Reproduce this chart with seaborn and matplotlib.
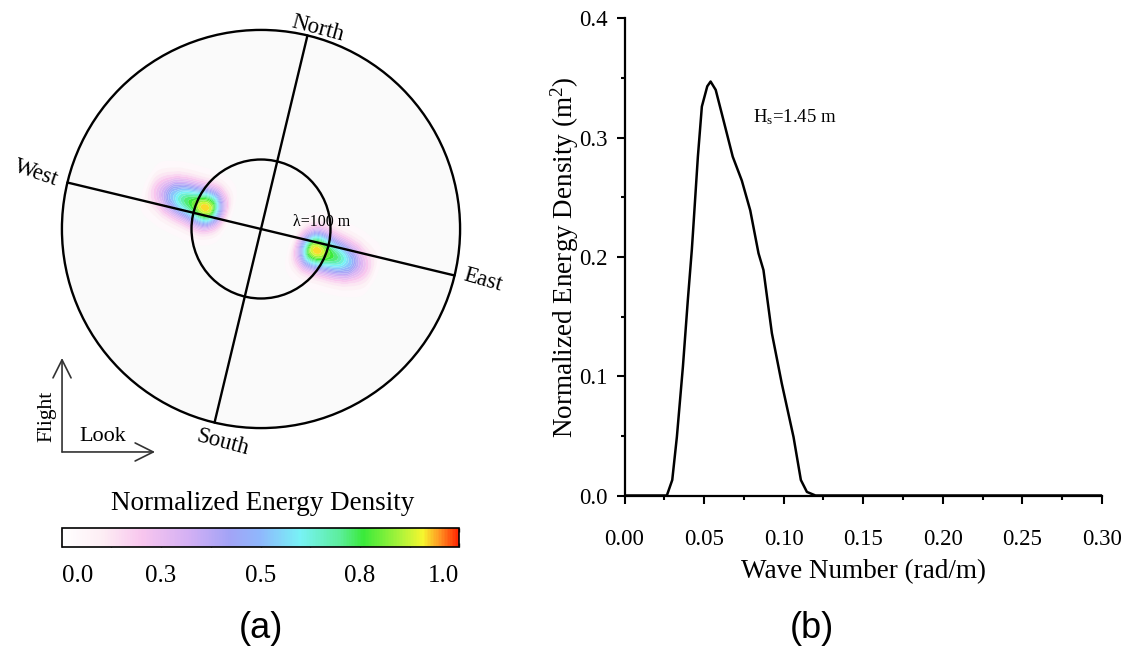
import numpy as np
import pandas as pd
import matplotlib
matplotlib.use("Agg")
import matplotlib.pyplot as plt
import seaborn as sns
from matplotlib.colors import LinearSegmentedColormap, Normalize
from matplotlib.cm import ScalarMappable
from matplotlib.patches import Circle

# ---------------- data ----------------
# 1-D wave spectrum (wave number in rad/m, energy density in m^2)
wavenumber = [0.0, 0.0266, 0.0300, 0.0329, 0.0367, 0.0398, 0.0423, 0.0430,
              0.0461, 0.0486, 0.0520, 0.0541, 0.0573, 0.0621, 0.0680, 0.0737,
              0.0790, 0.0842, 0.0873, 0.0926, 0.0988, 0.1062, 0.1108, 0.1146,
              0.1200, 0.3000]
energy = [0.0, 0.0, 0.013, 0.049, 0.108, 0.164, 0.206, 0.220,
          0.284, 0.326, 0.343, 0.347, 0.340, 0.315, 0.284, 0.264,
          0.239, 0.203, 0.189, 0.136, 0.094, 0.049, 0.013, 0.003,
          0.0, 0.0]

# properties of the 2-D spectrum
peak_direction_deg = 159.0     # mean propagation axis (from +kx, counter-clockwise)
cross_spread_k = 0.0125        # spread across the propagation axis (rad/m)
peak_normalized = 0.93         # normalized energy at the spectral peak
axes_rotation_deg = 13.5       # compass rotation relative to image frame
inner_wavelength = 100.0       # m, inner reference circle
outer_k = 0.18                 # rad/m, outer circle

compass_names = ["North", "West", "East", "South"]
colorbar_ticks = [0.0, 0.25, 0.5, 0.75, 1.0]
colorbar_labels = ["0.0", "0.3", "0.5", "0.8", "1.0"]
hs_label = "H$_\\mathregular{s}$=1.45 m"

# ---------------- style ----------------
sns.set_theme(style="ticks")
plt.rcParams["font.family"] = ["Liberation Serif", "DejaVu Serif"]
plt.rcParams["mathtext.fontset"] = "custom"
plt.rcParams["mathtext.rm"] = "Liberation Serif"
plt.rcParams["mathtext.it"] = "Liberation Serif:italic"
for key in ("text.color", "axes.labelcolor", "xtick.color", "ytick.color",
            "axes.edgecolor"):
    plt.rcParams[key] = "black"

W, H = 1129, 648
fig = plt.figure(figsize=(W / 100, H / 100), dpi=100)

# colormap: white -> pink -> violet -> blue -> cyan -> green -> yellow -> red
cmap = LinearSegmentedColormap.from_list("energy", [
    (0.00, "#ffffff"), (0.10, "#fdeef4"), (0.20, "#f8c6ee"),
    (0.32, "#d3b0f4"), (0.42, "#a3a3f6"), (0.50, "#8fb8fc"),
    (0.60, "#78f2f6"), (0.70, "#5cee9c"), (0.76, "#3aea3a"),
    (0.86, "#b4f43a"), (0.91, "#f6f62e"), (0.95, "#ff9a24"),
    (1.00, "#ff2200")])

# ---------------- panel (a): directional spectrum ----------------
px_per_k = 1106.0
cx, cy = 261.0, 229.0
xlim = (-0.230, 0.230)
ylim = (-0.230, 0.200)
left_px = cx + xlim[0] * px_per_k
right_px = cx + xlim[1] * px_per_k
top_px = cy - ylim[1] * px_per_k
bottom_px = cy - ylim[0] * px_per_k
ax_a = fig.add_axes([left_px / W, 1 - bottom_px / H,
                     (right_px - left_px) / W, (bottom_px - top_px) / H])
ax_a.set_xlim(*xlim)
ax_a.set_ylim(*ylim)
ax_a.set_axis_off()

ax_a.add_patch(Circle((0, 0), outer_k, facecolor="#fafafa", edgecolor="none", zorder=0))

# 2-D field: 1-D spectrum along the propagation axis (both senses),
# Gaussian spread across it
g = np.linspace(-outer_k, outer_k, 500)
KX, KY = np.meshgrid(g, g)
K = np.hypot(KX, KY)
t0 = np.radians(peak_direction_deg)
along = KX * np.cos(t0) + KY * np.sin(t0)
across = -KX * np.sin(t0) + KY * np.cos(t0)
field = (np.interp(np.abs(along), wavenumber, energy)
         * np.exp(-0.5 * (across / cross_spread_k) ** 2))
field = peak_normalized * field / field.max()
field = np.where(K <= outer_k, field, np.nan)
levels = np.concatenate([[0.02], np.arange(0.06, 1.0001, 0.04)])
ax_a.contourf(KX, KY, field, levels=levels, cmap=cmap, vmin=0, vmax=1,
              zorder=1, antialiased=True)

line_kw = dict(color="black", lw=1.7, zorder=3)
ax_a.add_patch(Circle((0, 0), outer_k, fill=False, **line_kw))
k_inner = 2 * np.pi / inner_wavelength
ax_a.add_patch(Circle((0, 0), k_inner, fill=False, **line_kw))
for ang in (90 - axes_rotation_deg, 180 - axes_rotation_deg):
    a = np.radians(ang)
    ax_a.plot([-outer_k * np.cos(a), outer_k * np.cos(a)],
              [-outer_k * np.sin(a), outer_k * np.sin(a)], **line_kw)

compass_pos = {"North": (0.0515, 0.181, -15), "West": (-0.2034, 0.0506, -19),
               "East": (0.2007, -0.0461, -16), "South": (-0.0344, -0.1935, -15)}
for name in compass_names:
    x, y, rot = compass_pos[name]
    ax_a.text(x, y, name, fontsize=16.5, rotation=rot, ha="center", va="center",
              rotation_mode="anchor", zorder=4)

ax_a.text(0.0549, 0.0061, "\u03bb=100 m", fontsize=11.5, ha="center", va="center", zorder=4)

# flight / look direction arrows
ox, oy = -0.1799, -0.2016
arrow_kw = dict(arrowstyle="->,head_length=1.3,head_width=0.65", color="#333333",
                lw=1.2, shrinkA=0, shrinkB=0, mutation_scale=10)
ax_a.annotate("", xy=(ox, -0.1166), xytext=(ox, oy), arrowprops=arrow_kw)
ax_a.annotate("", xy=(-0.0958, oy), xytext=(ox, oy), arrowprops=arrow_kw)
ax_a.text(-0.1938, -0.1697, "Flight", fontsize=15.5, rotation=90, ha="center", va="center")
ax_a.text(-0.1429, -0.1878, "Look", fontsize=16, ha="center", va="center")

# colorbar
cax = fig.add_axes([61.7 / W, 1 - 547.3 / H, 397.6 / W, 19.6 / H])
cb = fig.colorbar(ScalarMappable(norm=Normalize(0, 1), cmap=cmap), cax=cax,
                  orientation="horizontal")
cb.outline.set_linewidth(1.2)
cb.outline.set_edgecolor("black")
cax.set_xticks(colorbar_ticks)
cax.set_xticklabels(colorbar_labels)
cax.set_xticks(np.arange(0.125, 1.0, 0.25), minor=True)
cax.tick_params(axis="x", which="both", direction="in", top=True, bottom=True,
                length=3, width=1, color="#333333", labelsize=18, pad=13)
tl = cax.get_xticklabels()
tl[0].set_ha("left")
tl[-1].set_ha("right")
fig.text(263 / W, 1 - 503 / H, "Normalized Energy Density", fontsize=19.5,
         ha="center", va="center")
fig.text(261 / W, 1 - 628 / H, "(a)", fontsize=26, ha="center", va="center",
         family="Liberation Sans")

# ---------------- panel (b): 1-D spectrum ----------------
ax_b = fig.add_axes([624.5 / W, 1 - 495.5 / H, (1102 - 624.5) / W, (495.5 - 18.3) / H])
spec = pd.DataFrame({"k": wavenumber, "E": energy})
sns.lineplot(data=spec, x="k", y="E", ax=ax_b, color="black", lw=1.8)
ax_b.set_xlim(0, 0.30)
ax_b.set_ylim(0, 0.40)
ax_b.set_xticks(np.arange(0, 0.3001, 0.05))
ax_b.set_xticks(np.arange(0.025, 0.3, 0.05), minor=True)
ax_b.set_yticks([0.0, 0.1, 0.2, 0.3, 0.4])
ax_b.set_yticks([0.05, 0.15, 0.25, 0.35], minor=True)
ax_b.xaxis.set_major_formatter(matplotlib.ticker.FormatStrFormatter("%.2f"))
ax_b.yaxis.set_major_formatter(matplotlib.ticker.FormatStrFormatter("%.1f"))
for s in ("top", "right"):
    ax_b.spines[s].set_visible(False)
for s in ("left", "bottom"):
    ax_b.spines[s].set_linewidth(1.6)
    ax_b.spines[s].set_color("black")
ax_b.tick_params(axis="both", which="major", direction="out", length=6, width=1.5,
                 color="black", labelsize=16.5)
ax_b.tick_params(axis="both", which="minor", direction="out", length=3, width=1.5,
                 color="black")
ax_b.tick_params(axis="x", which="major", pad=18)
ax_b.tick_params(axis="y", which="major", pad=6)
ax_b.set_xlabel("Wave Number (rad/m)", fontsize=19.5)
ax_b.set_ylabel("Normalized Energy Density (m$^2$)", fontsize=19.5)
ax_b.xaxis.set_label_coords(0.5, (495.5 - 571.7) / (495.5 - 18.3))
ax_b.xaxis.label.set_va("center")
ax_b.yaxis.set_label_coords((565 - 624.5) / (1102 - 624.5), 0.5)
ax_b.yaxis.label.set_va("center")
ax_b.text(0.0805, 0.317, hs_label, fontsize=13.5, ha="left", va="center")
fig.text(812 / W, 1 - 628 / H, "(b)", fontsize=26, ha="center", va="center",
         family="Liberation Sans")

fig.savefig("out.png", dpi=100, facecolor="white")
